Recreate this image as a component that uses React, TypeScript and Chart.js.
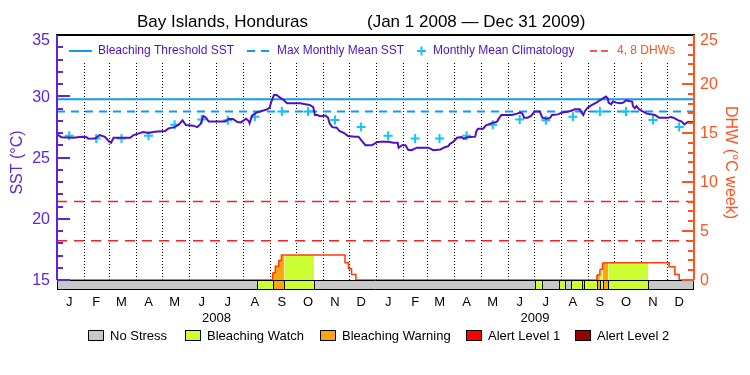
import React, { useEffect, useRef } from 'react';
import { Chart, registerables } from 'chart.js';

Chart.register(...registerables);

const FONT = '"Liberation Sans", Arial, sans-serif';

// ---------------- Data ----------------
const monthLabels = ['J', 'F', 'M', 'A', 'M', 'J', 'J', 'A', 'S', 'O', 'N', 'D'];
const years = [2008, 2009];

// SST: day offset from Jan 1 2008, value in deg C
const sstDays = [0, 5, 19, 28, 34, 36, 44, 49, 55, 60, 62, 65, 84, 88, 95, 99, 105, 112, 124, 128, 135, 140, 144, 148, 156, 161, 165, 168, 171, 174, 187, 193, 197, 202, 207, 211, 217, 220, 221, 224, 229, 235, 241, 244, 246, 249, 252, 256, 260, 264, 279, 285, 290, 294, 296, 299, 302, 308, 311, 313, 316, 321, 324, 329, 334, 342, 346, 350, 354, 361, 364, 367, 371, 373, 380, 386, 391, 392, 396, 400, 403, 407, 413, 426, 432, 440, 445, 449, 451, 455, 459, 464, 467, 471, 480, 481, 483, 489, 492, 497, 505, 507, 510, 516, 522, 528, 531, 534, 536, 540, 544, 548, 554, 557, 562, 566, 568, 575, 579, 587, 592, 594, 600, 602, 604, 606, 609, 614, 619, 623, 627, 630, 632, 633, 636, 638, 642, 646, 650, 653, 656, 660, 661, 663, 665, 668, 671, 677, 686, 691, 701, 705, 709, 713, 717, 720, 724, 728, 731];
const sstValues = [26.89, 26.66, 26.61, 26.69, 26.66, 26.53, 26.56, 26.83, 26.69, 26.29, 26.2, 26.61, 26.61, 26.83, 26.99, 27.08, 27.0, 27.1, 27.16, 27.38, 27.48, 27.7, 28.03, 27.65, 27.6, 27.48, 27.76, 28.39, 28.25, 27.93, 27.93, 27.93, 28.14, 28.14, 27.9, 27.87, 28.17, 27.98, 27.79, 28.44, 28.66, 28.8, 28.93, 29.07, 29.57, 30.1, 30.1, 29.89, 29.7, 29.43, 29.43, 29.34, 29.29, 29.12, 28.47, 28.47, 28.36, 28.42, 28.25, 27.76, 27.48, 27.43, 27.16, 27.02, 26.75, 26.7, 26.7, 26.34, 26.0, 26.0, 26.12, 26.25, 26.29, 26.29, 26.29, 26.2, 26.2, 25.8, 26.0, 26.0, 25.63, 25.6, 25.8, 25.8, 25.6, 25.66, 25.84, 25.93, 26.12, 26.29, 26.61, 26.66, 26.53, 26.66, 26.7, 27.1, 27.35, 27.35, 27.6, 27.76, 27.93, 28.17, 28.47, 28.47, 28.47, 28.58, 28.66, 28.58, 28.25, 28.25, 28.39, 28.75, 28.75, 28.25, 28.17, 28.25, 28.47, 28.52, 28.66, 28.75, 28.85, 28.93, 28.93, 28.66, 28.47, 28.8, 29.07, 29.29, 29.48, 29.67, 29.84, 29.97, 29.84, 29.48, 29.34, 29.57, 29.48, 29.43, 29.48, 29.67, 29.61, 29.57, 29.2, 29.02, 29.2, 28.93, 28.8, 28.58, 28.47, 28.25, 28.25, 28.3, 28.2, 28.03, 27.93, 27.7, 27.9, 27.9, 27.9];

// Monthly mean climatology (Jan 2008 .. Dec 2009)
const climatology = [26.78, 26.56, 26.56, 26.78, 27.68, 28.1, 28.05, 28.33, 28.75, 28.75, 28.06, 27.5, 26.78, 26.56, 26.56, 26.78, 27.68, 28.1, 28.05, 28.33, 28.75, 28.75, 28.06, 27.5];

const maxMonthlyMean = 28.75;
const bleachingThreshold = 29.75;

// Degree heating weeks (value holds from the given day until the next one)
const dhwDays = [0, 247.5, 250.5, 254.5, 257.5, 261, 295, 330.5, 334.5, 338, 343, 619.5, 623, 626, 632.5, 678.5, 702.5, 709, 714, 731];
const dhwValues = [0, 0.75, 1.4, 2.0, 2.55, 2.55, 2.55, 1.75, 1.15, 0.55, 0, 0.5, 1.1, 1.75, 1.75, 1.75, 1.35, 0.55, 0, 0];
const dhwGuides = [4, 8];

// Bleaching alert level periods (0 no stress, 1 watch, 2 warning, 3 alert 1, 4 alert 2)
const alertStart = [0, 230, 247.5, 261, 295, 549, 556, 576, 583, 590, 602, 604.5, 619.5, 623, 626, 632.5, 678.5];
const alertEnd = [230, 247.5, 261, 295, 549, 556, 576, 583, 590, 602, 604.5, 619.5, 623, 626, 632.5, 678.5, 731];
const alertLevel = [0, 1, 2, 1, 0, 1, 0, 1, 0, 1, 0, 1, 2, 1, 2, 1, 0];
const alertNames = ['No Stress', 'Bleaching Watch', 'Bleaching Warning', 'Alert Level 1', 'Alert Level 2'];

// ---------------- Styles ----------------
const alertColors = ['#c8c8c8', '#ccff33', '#ffa510', '#ff0000', '#990000'];
const SST_COLOR = '#4f10c4';
const AXIS_PURPLE = '#5e24da';
const BLUE = '#0c9cf2';
const CYAN = '#12c6f4';
const ORANGE = '#ff5320';
const RED = '#f42222';
const DHW_COLOR = '#ff3c10';

// ---------------- Calendar helpers ----------------
const DAY = 86400000;
const T0 = Date.UTC(2008, 0, 1);
const monthStartDays = Array.from({ length: 25 }, (_, i) => (Date.UTC(2008, i, 1) - T0) / DAY);
const midMonthDays = monthStartDays.slice(0, 24).map((d) => d + 14);
const yearMidDays = years.map((yr) => ((Date.UTC(yr, 0, 1) - T0) / DAY + (Date.UTC(yr + 1, 0, 1) - T0) / DAY) / 2);
const X_MAX = monthStartDays[24];

const SST_MIN = 15 - (20 * 10) / 245;
const DHW_MIN = 0 - (25 * 10) / 245;

function alertLevelAt(d: number) {
  for (let i = 0; i < alertStart.length; i++) {
    if (d >= alertStart[i] && d < alertEnd[i]) return alertLevel[i];
  }
  return 0;
}

const crwPlugin = {
  id: 'crw',
  beforeDatasetsDraw(chart: any) {
    const { ctx } = chart;
    const x = chart.scales.x, y = chart.scales.y, y2 = chart.scales.y2;
    ctx.save();
    ctx.strokeStyle = '#000';
    ctx.lineWidth = 1;
    ctx.setLineDash([1, 2]);
    const top = Math.round(y.getPixelForValue(32.7));
    const bot = Math.round(y2.getPixelForValue(0));
    for (let i = 1; i < monthStartDays.length - 1; i++) {
      const px = Math.round(x.getPixelForValue(monthStartDays[i])) + 0.5;
      ctx.beginPath();
      ctx.moveTo(px, top);
      ctx.lineTo(px, bot);
      ctx.stroke();
    }
    ctx.restore();
  },
  afterDatasetsDraw(chart: any) {
    const { ctx, chartArea: a } = chart;
    const x = chart.scales.x, y = chart.scales.y, y2 = chart.scales.y2;
    ctx.save();
    ctx.setLineDash([]);

    // alert strip
    const sTop = Math.round(y2.getPixelForValue(0));
    const sBot = Math.round(a.bottom);
    for (let i = 0; i < alertStart.length; i++) {
      const x0 = Math.round(x.getPixelForValue(alertStart[i]));
      const x1 = Math.round(x.getPixelForValue(alertEnd[i]));
      ctx.fillStyle = alertColors[alertLevel[i]];
      ctx.fillRect(x0, sTop, x1 - x0, sBot - sTop);
    }
    ctx.strokeStyle = '#000';
    ctx.lineWidth = 1;
    ctx.beginPath();
    ctx.moveTo(a.left, sTop + 0.5);
    ctx.lineTo(a.right, sTop + 0.5);
    ctx.moveTo(a.left, sBot - 0.5);
    ctx.lineTo(a.right, sBot - 0.5);
    for (let i = 0; i < alertStart.length; i++) {
      const x0 = Math.round(x.getPixelForValue(alertStart[i])) + 0.5;
      ctx.moveTo(x0, sTop);
      ctx.lineTo(x0, sBot);
    }
    const xe = Math.round(x.getPixelForValue(X_MAX)) - 0.5;
    ctx.moveTo(xe, sTop);
    ctx.lineTo(xe, sBot);
    ctx.stroke();

    // top frame
    ctx.lineWidth = 2;
    ctx.strokeStyle = '#000';
    ctx.beginPath();
    ctx.moveTo(a.left - 1, a.top);
    ctx.lineTo(a.right + 1, a.top);
    ctx.stroke();

    // left axis
    ctx.strokeStyle = AXIS_PURPLE;
    ctx.beginPath();
    ctx.moveTo(a.left, a.top);
    ctx.lineTo(a.left, sTop);
    for (let v = 15; v < 35; v++) {
      const py = Math.round(y.getPixelForValue(v));
      const len = v % 5 === 0 ? 13 : 6;
      ctx.moveTo(a.left, py);
      ctx.lineTo(a.left + len, py);
    }
    ctx.stroke();

    // right axis
    ctx.strokeStyle = ORANGE;
    ctx.beginPath();
    ctx.moveTo(a.right, a.top);
    ctx.lineTo(a.right, sTop);
    for (let v = 0; v < 25; v++) {
      const py = Math.round(y2.getPixelForValue(v));
      const len = v % 5 === 0 ? 12 : 6;
      ctx.moveTo(a.right, py);
      ctx.lineTo(a.right - len, py);
    }
    ctx.stroke();

    // axis tick labels
    ctx.font = `16px ${FONT}`;
    ctx.textBaseline = 'middle';
    ctx.fillStyle = AXIS_PURPLE;
    ctx.textAlign = 'right';
    for (let v = 15; v <= 35; v += 5) {
      const py = Math.max(y.getPixelForValue(v) + 1, a.top + 6);
      ctx.fillText(String(v), a.left - 7, py);
    }
    ctx.fillStyle = ORANGE;
    ctx.textAlign = 'left';
    for (let v = 0; v <= 25; v += 5) {
      const py = Math.max(y2.getPixelForValue(v) + 1, a.top + 6);
      ctx.fillText(String(v), a.right + 6, py);
    }

    // title
    ctx.fillStyle = '#000';
    ctx.font = `17px ${FONT}`;
    ctx.textAlign = 'left';
    ctx.fillText('Bay Islands, Honduras', 137, 22, 188);
    ctx.fillText('(Jan 1 2008 \u2014 Dec 31 2009)', 367, 22, 250);

    // top legend
    const ly = 51;
    ctx.font = `12px ${FONT}`;
    ctx.lineWidth = 2;
    ctx.strokeStyle = BLUE;
    ctx.beginPath();
    ctx.moveTo(69, ly);
    ctx.lineTo(92, ly);
    ctx.stroke();
    ctx.setLineDash([8, 6]);
    ctx.beginPath();
    ctx.moveTo(247, ly);
    ctx.lineTo(269, ly);
    ctx.stroke();
    ctx.setLineDash([]);
    ctx.strokeStyle = CYAN;
    ctx.beginPath();
    ctx.moveTo(417, ly);
    ctx.lineTo(426, ly);
    ctx.moveTo(421.5, ly - 4.5);
    ctx.lineTo(421.5, ly + 4.5);
    ctx.stroke();
    ctx.strokeStyle = RED;
    ctx.lineWidth = 1.5;
    ctx.setLineDash([7, 4]);
    ctx.beginPath();
    ctx.moveTo(590, ly);
    ctx.lineTo(608, ly);
    ctx.stroke();
    ctx.setLineDash([]);
    ctx.fillStyle = SST_COLOR;
    ctx.fillText('Bleaching Threshold SST', 98, ly, 138);
    ctx.fillText('Max Monthly Mean SST', 277, ly, 127);
    ctx.fillText('Monthly Mean Climatology', 433, ly, 146);
    ctx.fillStyle = ORANGE;
    ctx.fillText('4, 8 DHWs', 617, ly, 60);

    // bottom legend
    const boxX = [88, 185, 320, 466, 575];
    ctx.font = `13px ${FONT}`;
    ctx.lineWidth = 1;
    ctx.strokeStyle = '#000';
    for (let i = 0; i < alertNames.length; i++) {
      ctx.fillStyle = alertColors[i];
      ctx.fillRect(boxX[i], 330, 16, 11);
      ctx.strokeRect(boxX[i] + 0.5, 330.5, 15, 10);
      ctx.fillStyle = '#000';
      ctx.fillText(alertNames[i], boxX[i] + 22, 336);
    }
    ctx.restore();
  },
};

export default function App() {
  const ref = useRef<HTMLCanvasElement>(null);
  useEffect(() => {
    const xTickValues = [...midMonthDays, ...yearMidDays];
    const xTickLabel = (v: number) => {
      const yi = yearMidDays.indexOf(v);
      if (yi >= 0) return ['', String(years[yi])];
      const mi = midMonthDays.indexOf(v);
      return mi >= 0 ? monthLabels[mi % 12] : '';
    };
    const line = (xs: number[], ys: number[]) => xs.map((d, i) => ({ x: d, y: ys[i] }));
    const chart = new Chart(ref.current as HTMLCanvasElement, {
      type: 'line',
      data: {
        datasets: [
          {
            label: 'SST',
            data: line(sstDays, sstValues),
            yAxisID: 'y',
            borderColor: SST_COLOR,
            borderWidth: 2,
            pointRadius: 0,
            tension: 0,
            fill: false,
          },
          {
            label: 'Monthly Mean Climatology',
            data: line(midMonthDays, climatology),
            yAxisID: 'y',
            showLine: false,
            pointStyle: 'cross',
            pointRadius: 4.5,
            pointBorderWidth: 2,
            pointBorderColor: CYAN,
            pointBackgroundColor: CYAN,
            borderColor: CYAN,
          },
          {
            label: 'Bleaching Threshold SST',
            data: line([0, X_MAX], [bleachingThreshold, bleachingThreshold]),
            yAxisID: 'y',
            borderColor: BLUE,
            borderWidth: 2,
            pointRadius: 0,
          },
          {
            label: 'Max Monthly Mean SST',
            data: line([0, X_MAX], [maxMonthlyMean, maxMonthlyMean]),
            yAxisID: 'y',
            borderColor: BLUE,
            borderWidth: 2,
            borderDash: [8, 6],
            pointRadius: 0,
          },
          ...dhwGuides.map((g) => ({
            label: `${g} DHWs`,
            data: line([0, X_MAX], [g, g]),
            yAxisID: 'y2',
            borderColor: RED,
            borderWidth: 1.5,
            borderDash: [10, 7],
            pointRadius: 0,
          })),
          {
            label: 'DHW',
            data: line(dhwDays, dhwValues),
            yAxisID: 'y2',
            stepped: true,
            borderColor: DHW_COLOR,
            borderWidth: 1.5,
            pointRadius: 0,
            fill: 'origin',
            backgroundColor: 'rgba(255,255,255,0)',
            segment: {
              backgroundColor: (c: any) => {
                const lv = alertLevelAt(c.p0.parsed.x);
                return lv === 0 ? 'rgba(255,255,255,0)' : alertColors[lv];
              },
            },
          },
        ] as any,
      },
      options: {
        responsive: false,
        animation: false,
        devicePixelRatio: 1,
        layout: { padding: { top: 35, left: 0, right: 0, bottom: 0 } },
        plugins: {
          legend: { display: false },
          title: { display: false },
          tooltip: { enabled: false },
        },
        scales: {
          x: {
            type: 'linear',
            min: 0,
            max: X_MAX,
            grid: { display: false },
            border: { display: false },
            afterBuildTicks: (s: any) => {
              s.ticks = xTickValues.map((v) => ({ value: v }));
            },
            afterFit: (s: any) => {
              s.height = 85;
            },
            ticks: {
              autoSkip: false,
              maxRotation: 0,
              minRotation: 0,
              color: '#000',
              padding: -4,
              font: { family: FONT, size: 13, lineHeight: '16px' },
              callback: (v: any) => xTickLabel(Number(v)),
            },
          },
          y: {
            type: 'linear',
            position: 'left',
            min: SST_MIN,
            max: 35,
            grid: { display: false },
            border: { display: false },
            ticks: { display: false },
            title: {
              display: true,
              text: 'SST (\u00B0C)',
              color: AXIS_PURPLE,
              font: { family: FONT, size: 16 },
              padding: { top: 8, bottom: 0 },
            },
            afterFit: (s: any) => {
              s.width = 57;
            },
          },
          y2: {
            type: 'linear',
            position: 'right',
            min: DHW_MIN,
            max: 25,
            grid: { display: false },
            border: { display: false },
            ticks: { display: false },
            title: {
              display: true,
              text: 'DHW (\u00B0C week)',
              color: ORANGE,
              font: { family: FONT, size: 16 },
              padding: { top: 9.5, bottom: 0 },
            },
            afterFit: (s: any) => {
              s.width = 56;
            },
          },
        },
      } as any,
      plugins: [crwPlugin as any],
    });
    return () => chart.destroy();
  }, []);
  return (
    <div style={{ position: 'absolute', left: 0, top: 0, width: 750, height: 375, background: '#fff' }}>
      <canvas ref={ref} width={750} height={375} style={{ display: 'block', width: 750, height: 375 }} />
    </div>
  );
}
